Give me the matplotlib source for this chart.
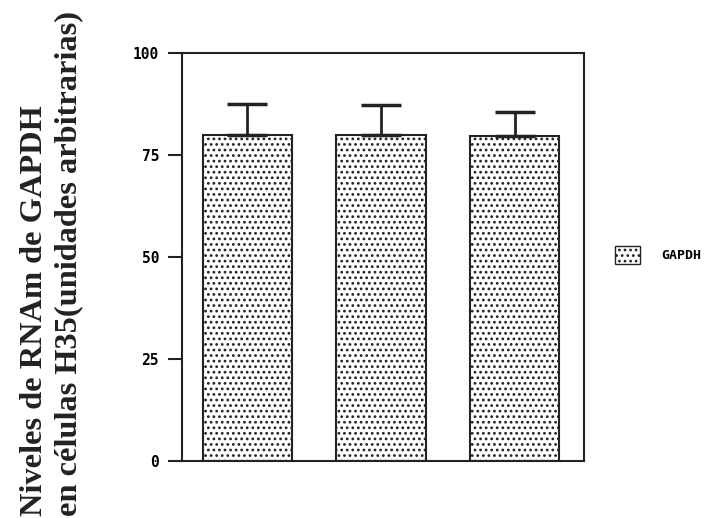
import matplotlib
matplotlib.use("Agg")
import matplotlib.pyplot as plt
from matplotlib.patches import Patch

categories = ["A", "B", "C"]
values = [79.8, 79.8, 79.7]
errors = [7.6, 7.5, 5.8]
yticks = [0, 25, 50, 75, 100]
series_name = "GAPDH"
ylabel_line1 = "Niveles de RNAm de GAPDH"
ylabel_line2 = "en células H35(unidades arbitrarias)"

plt.rcParams['hatch.linewidth'] = 1.2
plt.rcParams['hatch.color'] = '#555555'

fig = plt.figure(figsize=(7.17, 5.18), dpi=100)
W, H = 717, 518
ax = fig.add_axes([182 / W, 1 - 461 / H, (584 - 182) / W, (461 - 53) / H])

x = list(range(len(categories)))
ax.bar(x, values, width=0.67, color='white', edgecolor='#222222', linewidth=1.5,
       hatch='...', zorder=2)
ax.errorbar(x, values, yerr=[[0] * len(errors), errors], fmt='none', ecolor='#222222',
            elinewidth=2, capsize=14.5, capthick=2.5, zorder=3)

ax.set_xlim(-0.49, 2.52)
ax.set_ylim(0, 100)
ax.set_yticks(yticks)
ax.set_yticklabels([str(t) for t in yticks], fontfamily='DejaVu Sans Mono',
                   fontweight='bold', fontsize=10.5)
ax.set_xticks([])
ax.tick_params(axis='y', length=10, width=1.5, pad=6.5, color='#222222')
for s in ax.spines.values():
    s.set_linewidth(1.5)
    s.set_color('#222222')

fig.text(35 / W, 1 - 516 / H, ylabel_line1, rotation=90, ha='center', va='bottom',
         fontfamily='Liberation Serif', fontweight='bold', fontsize=23.3,
         color='#222222')
fig.text(69 / W, 1 - 516 / H, ylabel_line2, rotation=90, ha='center', va='bottom',
         fontfamily='Liberation Serif', fontweight='bold', fontsize=23.3,
         color='#222222')

leg = fig.legend(handles=[Patch(facecolor='white', edgecolor='#222222', hatch='...',
                                label=series_name)],
                 loc='center left', bbox_to_anchor=(608 / W, 1 - 255 / H),
                 frameon=False, handlelength=1.9, handleheight=1.8, handletextpad=1.6,
                 borderpad=0,
                 prop={'family': 'DejaVu Sans Mono', 'weight': 'bold', 'size': 9.5})

fig.savefig("out.png", dpi=100)
